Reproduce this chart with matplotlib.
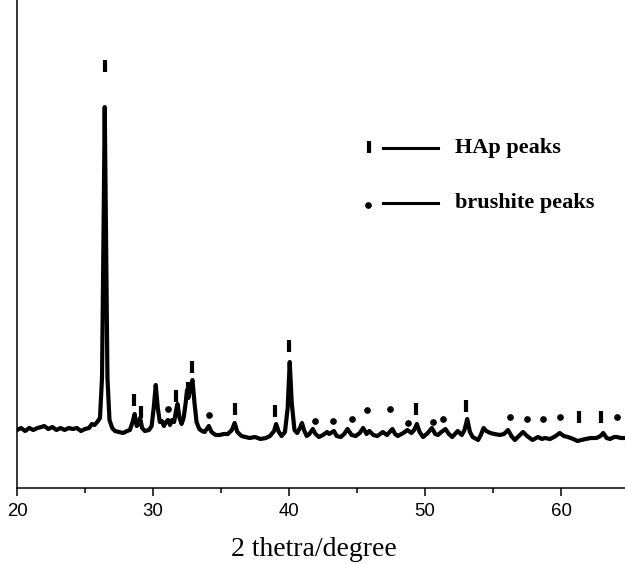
import matplotlib
matplotlib.use("Agg")
import matplotlib.pyplot as plt
from matplotlib.ticker import MultipleLocator

# XRD pattern (2theta in degrees, intensity in arbitrary units)
two_theta = [20.0, 20.3, 20.6, 20.9, 21.2, 21.5, 21.8, 22.0, 22.3, 22.6, 22.9, 23.2, 23.5, 23.8,
             24.1, 24.4, 24.7, 25.0, 25.3, 25.5, 25.7, 25.9, 26.1, 26.25, 26.35, 26.45, 26.55,
             26.65, 26.8, 27.0, 27.2, 27.5, 27.8, 28.1, 28.3, 28.5, 28.65, 28.8, 28.95, 29.05,
             29.2, 29.4, 29.7, 29.9, 30.05, 30.2, 30.35, 30.5, 30.65, 30.8, 30.95, 31.1, 31.25,
             31.4, 31.55, 31.7, 31.8, 31.95, 32.1, 32.25, 32.4, 32.5, 32.6, 32.75, 32.9, 33.05,
             33.2, 33.4, 33.6, 33.8, 34.0, 34.1, 34.3, 34.6, 34.9, 35.2, 35.5, 35.8, 36.0, 36.2,
             36.5, 36.8, 37.1, 37.5, 37.9, 38.3, 38.6, 38.9, 39.05, 39.25, 39.45, 39.7, 39.9,
             40.05, 40.2, 40.4, 40.6, 40.8, 40.95, 41.1, 41.3, 41.5, 41.75, 41.95, 42.2, 42.5,
             42.8, 42.95, 43.3, 43.5, 43.8, 44.05, 44.3, 44.6, 44.9, 45.2, 45.45, 45.7, 45.9,
             46.2, 46.5, 46.9, 47.2, 47.6, 47.8, 48.0, 48.4, 48.7, 49.0, 49.2, 49.4, 49.6, 49.85,
             50.2, 50.5, 50.75, 50.95, 51.2, 51.5, 51.75, 52.0, 52.2, 52.4, 52.7, 52.9, 53.1,
             53.3, 53.5, 53.9, 54.1, 54.3, 54.5, 54.8, 55.1, 55.5, 55.8, 56.1, 56.35, 56.6, 56.9,
             57.2, 57.5, 57.9, 58.3, 58.6, 58.8, 59.2, 59.6, 59.9, 60.2, 60.5, 60.9, 61.2, 61.5,
             61.8, 62.2, 62.6, 62.9, 63.1, 63.35, 63.6, 63.9, 64.1, 64.4, 64.7]
intensity = [58, 60, 57, 60, 58, 60, 61, 62, 59, 61, 58, 60, 58, 60,
             59, 60, 57, 59, 60, 64, 63, 66, 70, 110, 240, 381, 240,
             110, 68, 60, 57, 56, 55, 57, 58, 66, 74, 62, 64, 70,
             60, 57, 58, 62, 80, 103, 80, 66, 67, 62, 66, 68, 63,
             68, 66, 78, 84, 70, 64, 70, 85, 98, 90, 100, 108, 85,
             66, 59, 57, 56, 60, 62, 56, 53, 53, 54, 54, 58, 65, 56,
             52, 51, 50, 51, 49, 50, 52, 57, 64, 56, 52, 56, 80,
             126, 85, 58, 55, 60, 65, 58, 52, 54, 59, 54, 51, 53,
             56, 54, 57, 52, 51, 54, 59, 53, 52, 55, 60, 54, 57,
             53, 52, 56, 53, 59, 54, 52, 55, 58, 55, 58, 64, 56, 51,
             55, 60, 54, 53, 56, 59, 54, 51, 54, 57, 53, 58, 69,
             56, 51, 48, 53, 60, 57, 55, 54, 53, 54, 58, 52, 48, 52,
             56, 52, 48, 51, 49, 50, 49, 52, 55, 52, 51, 49, 47, 48,
             49, 50, 50, 52, 55, 50, 49, 51, 51, 50, 50]

# HAp peak markers
hap_x = [26.45, 28.6, 29.1, 31.7, 32.6, 32.9, 36.0, 39.0, 40.0, 49.3, 53.0, 61.3, 62.9]
hap_y = [422, 88, 76, 92, 100, 121, 79, 77, 142, 79, 82, 71, 71]

# brushite peak markers
bru_x = [31.1, 34.1, 41.9, 43.2, 44.6, 45.7, 47.4, 48.75, 50.6, 51.3, 56.25, 57.5, 58.7, 59.9, 64.1]
bru_y = [79, 73, 67, 67, 69, 78, 79, 65, 66, 69, 71, 69, 69, 71, 71]

legend_labels = ["HAp peaks", "brushite peaks"]
xticks = [20, 30, 40, 50, 60]

fig = plt.figure(figsize=(6.25, 5.64), dpi=100)
ax = fig.add_axes([17 / 625, 76 / 564, 608 / 625, 488 / 564])

ax.plot(two_theta, intensity, color="black", lw=3.0, solid_joinstyle="round")
ax.plot(hap_x, hap_y, linestyle="none", marker="|", markersize=8.8, markeredgewidth=3.0,
        color="black")
ax.plot(bru_x, bru_y, linestyle="none", marker="o", markersize=3.8, color="black")

# legend drawn by hand
ax.plot([45.88], [341], marker="|", markersize=8.8, markeredgewidth=3.0, color="black")
ax.plot([46.9, 50.96], [340, 340], color="black", lw=2.2)
ax.text(52.2, 340, legend_labels[0], fontsize=16, fontweight="bold",
        family="Liberation Serif", va="center", ha="left")
ax.plot([45.8], [283], marker="o", markersize=3.8, color="black")
ax.plot([46.9, 50.96], [285, 285], color="black", lw=2.2)
ax.text(52.2, 285, legend_labels[1], fontsize=16, fontweight="bold",
        family="Liberation Serif", va="center", ha="left")

ax.set_xlim(20, 64.7)
ax.set_ylim(0, 488)
ax.set_xticks(xticks)
ax.xaxis.set_minor_locator(MultipleLocator(5))
ax.tick_params(axis="x", which="major", direction="out", length=5.8, width=1.1, pad=5,
               labelsize=13.4)
ax.tick_params(axis="x", which="minor", direction="out", length=3.6, width=1.1)
for lab in ax.get_xticklabels():
    lab.set_family("Liberation Sans")
ax.set_yticks([])
ax.spines["top"].set_visible(False)
ax.spines["right"].set_visible(False)
ax.spines["left"].set_linewidth(1.1)
ax.spines["bottom"].set_linewidth(1.1)

fig.text(314 / 625, 8 / 564, "2 thetra/degree", family="Liberation Serif", fontsize=20,
         ha="center", va="baseline")

fig.savefig("out.png", dpi=100)
